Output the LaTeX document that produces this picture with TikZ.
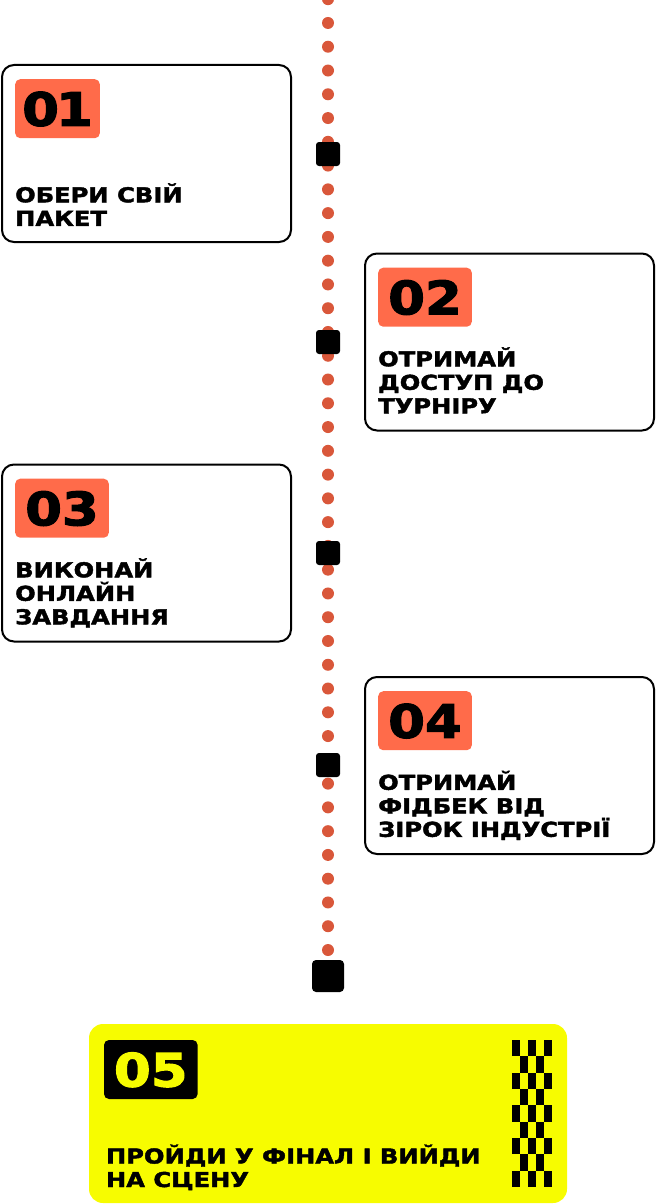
\documentclass[tikz,border=0pt]{standalone}
\usepackage{fontspec}
\usetikzlibrary{positioning,backgrounds}
\newfontfamily\stepfont{DejaVu Sans}[FakeStretch=1.18,FakeBold=2]
\newfontfamily\numfont{DejaVu Sans}[FakeStretch=1.15,FakeBold=2.5]
\definecolor{accent}{RGB}{255,107,74}
\definecolor{dotred}{RGB}{217,87,58}
\definecolor{finalyellow}{RGB}{247,252,0}
\begin{document}
\begin{tikzpicture}[x=1pt, y=-1pt,
    card/.style={rectangle, draw, line width=2pt, rounded corners=12pt, minimum width=289pt, minimum height=177pt, inner sep=0pt},
    badge/.style={rectangle, fill=accent, rounded corners=5pt, minimum height=59pt, inner xsep=10pt, inner ysep=0pt, text depth=0pt, font=\numfont\bfseries\fontsize{46}{46}\selectfont},
    caption/.style={align=left, inner sep=0pt, text depth=0pt, font=\stepfont\bfseries\fontsize{20.5}{23.5}\selectfont},
    marker/.style={rectangle, fill=black, rounded corners=3pt, minimum size=24pt, inner sep=0pt},
    timeline/.style={dotred, line width=12pt, line cap=round, dash pattern=on 0pt off 23.77pt}
]
    \useasboundingbox (0,0) rectangle (656,1204);

    \node[card] (step1) at (146.5,153.5) {};
    \node[badge, inner xsep=7pt, below right=15pt and 14pt of step1.north west] (num1) {0\kern-3pt1};
    \node[caption, above right=17pt and 14pt of step1.south west] (txt1) {ОБЕРИ СВІЙ\\ПАКЕТ};

    \node[card] (step2) at (509.5,342) {};
    \node[badge, below right=15pt and 14pt of step2.north west] (num2) {02};
    \node[caption, above right=18pt and 14pt of step2.south west] (txt2) {ОТРИМАЙ\\ДОСТУП ДО\\ТУРНІРУ};

    \node[card] (step3) at (146.5,553) {};
    \node[badge, below right=15pt and 14pt of step3.north west] (num3) {03};
    \node[caption, above right=18pt and 14pt of step3.south west] (txt3) {ВИКОНАЙ\\ОНЛАЙН\\ЗАВДАННЯ};

    \node[card] (step4) at (509.5,765.5) {};
    \node[badge, below right=15pt and 14pt of step4.north west] (num4) {04};
    \node[caption, above right=18pt and 14pt of step4.south west] (txt4) {ОТРИМАЙ\\ФІДБЕК ВІД\\ЗІРОК ІНДУСТРІЇ};

    \node[rectangle, fill=finalyellow, rounded corners=14pt, minimum width=478pt, minimum height=179pt] (final) at (328,1113.5) {};
    \node[badge, fill=black, text=finalyellow, below right=16pt and 15pt of final.north west] (num5) {05};
    \node[caption, above right=16pt and 17pt of final.south west] (txt5) {ПРОЙДИ У ФІНАЛ І ВИЙДИ\\НА СЦЕНУ};

    % checkered flag
    \foreach \r in {0,2,...,8}
        \foreach \c in {0,2,4}
            \fill (512+8*\c,1040+16.33*\r) rectangle ++(8,16.33);
    \foreach \r in {1,3,...,7}
        \foreach \c in {1,3}
            \fill (512+8*\c,1040+16.33*\r) rectangle ++(8,16.33);

    \node[marker] (m1) at (328,154) {};
    \node[marker] (m2) at (328,342) {};
    \node[marker] (m3) at (328,553) {};
    \node[marker] (m4) at (328,765) {};
    \node[marker, minimum size=32pt, rounded corners=4pt] (m5) at (328,976) {};

    \coordinate (top) at (328,-0.8);
    \begin{scope}[on background layer]
        \draw[timeline] (top) -- (m5.center);
    \end{scope}
\end{tikzpicture}
\end{document}
